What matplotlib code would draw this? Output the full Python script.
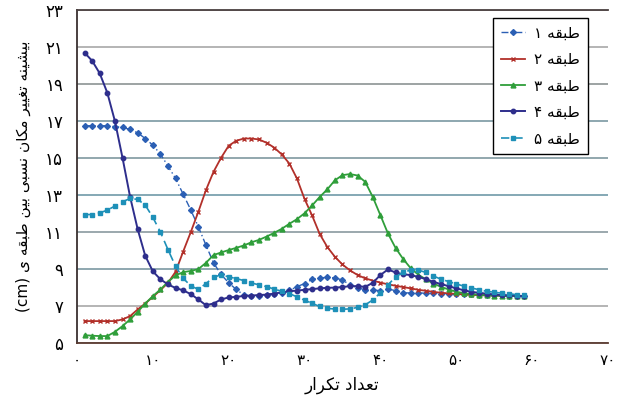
import numpy as np
import matplotlib
matplotlib.use("Agg")
import matplotlib.pyplot as plt

# Persian letters -> presentation forms (isolated, final, initial, medial)
FORMS = {
    'ا': ('\uFE8D', '\uFE8E', None, None),
    'ب': ('\uFE8F', '\uFE90', '\uFE91', '\uFE92'),
    'ت': ('\uFE95', '\uFE96', '\uFE97', '\uFE98'),
    'د': ('\uFEA9', '\uFEAA', None, None),
    'ر': ('\uFEAD', '\uFEAE', None, None),
    'س': ('\uFEB1', '\uFEB2', '\uFEB3', '\uFEB4'),
    'ش': ('\uFEB5', '\uFEB6', '\uFEB7', '\uFEB8'),
    'ط': ('\uFEC1', '\uFEC2', '\uFEC3', '\uFEC4'),
    'ع': ('\uFEC9', '\uFECA', '\uFECB', '\uFECC'),
    'غ': ('\uFECD', '\uFECE', '\uFECF', '\uFED0'),
    'ق': ('\uFED5', '\uFED6', '\uFED7', '\uFED8'),
    'ک': ('\uFED9', '\uFEDA', '\uFEDB', '\uFEDC'),
    'م': ('\uFEE1', '\uFEE2', '\uFEE3', '\uFEE4'),
    'ن': ('\uFEE5', '\uFEE6', '\uFEE7', '\uFEE8'),
    'ه': ('\uFEE9', '\uFEEA', '\uFEEB', '\uFEEC'),
    'ی': ('\uFEEF', '\uFEF0', '\uFEF3', '\uFEF4'),
}


def shape(word):
    out = []
    for i, ch in enumerate(word):
        if ch not in FORMS:
            out.append(ch)
            continue
        prev = word[i - 1] if i > 0 else None
        nxt = word[i + 1] if i + 1 < len(word) else None
        join_prev = prev in FORMS and FORMS[prev][2] is not None
        join_next = nxt in FORMS and FORMS[ch][2] is not None
        iso, fin, ini, med = FORMS[ch]
        if join_prev and join_next:
            out.append(med)
        elif join_prev:
            out.append(fin)
        elif join_next:
            out.append(ini)
        else:
            out.append(iso)
    return ''.join(out)


def fa(text):
    words = []
    for w in text.split(' '):
        if any(c in FORMS for c in w):
            words.append(shape(w)[::-1])
        else:
            words.append(w)
    return ' '.join(words[::-1])


def fa_num(n):
    return ''.join(chr(0x06F0 + int(d)) for d in str(n))


iters = list(range(1, 60))

floor1 = [16.75, 16.75, 16.75, 16.75, 16.70, 16.66, 16.55, 16.37, 16.06, 15.70,
          15.22, 14.57, 13.90, 13.05, 12.20, 11.29, 10.30, 9.34, 8.71, 8.26,
          7.90, 7.60, 7.55, 7.55, 7.60, 7.65, 7.70, 7.85, 8.05, 8.22,
          8.44, 8.53, 8.55, 8.53, 8.41, 8.15, 7.98, 7.88, 7.86, 7.84,
          7.92, 7.84, 7.72, 7.71, 7.71, 7.70, 7.69, 7.68, 7.67, 7.66,
          7.65, 7.63, 7.62, 7.60, 7.59, 7.58, 7.57, 7.56, 7.55]

floor2 = [6.19, 6.19, 6.19, 6.19, 6.19, 6.28, 6.46, 6.82, 7.14, 7.50,
          7.86, 8.26, 8.86, 9.95, 11.00, 12.10, 13.27, 14.26, 15.02, 15.67,
          15.94, 16.06, 16.06, 16.01, 15.83, 15.57, 15.20, 14.71, 13.90, 12.80,
          11.90, 10.90, 10.20, 9.67, 9.25, 8.93, 8.68, 8.50, 8.38, 8.27,
          8.18, 8.10, 8.03, 7.96, 7.88, 7.83, 7.77, 7.72, 7.69, 7.66,
          7.63, 7.61, 7.59, 7.58, 7.57, 7.56, 7.55, 7.55, 7.54]

floor3 = [5.43, 5.40, 5.38, 5.38, 5.61, 5.92, 6.28, 6.69, 7.14, 7.54,
          7.90, 8.31, 8.66, 8.84, 8.90, 9.00, 9.34, 9.76, 9.90, 10.03,
          10.15, 10.28, 10.45, 10.58, 10.76, 10.96, 11.18, 11.45, 11.70, 12.02,
          12.44, 12.90, 13.31, 13.80, 14.08, 14.14, 14.06, 13.72, 12.90, 11.92,
          10.93, 10.15, 9.55, 9.05, 8.70, 8.45, 8.22, 8.04, 7.90, 7.78,
          7.70, 7.65, 7.61, 7.59, 7.57, 7.56, 7.55, 7.55, 7.54]

floor4 = [20.70, 20.26, 19.58, 18.53, 17.00, 15.02, 12.91, 11.16, 9.72, 8.88,
          8.45, 8.17, 7.98, 7.85, 7.65, 7.36, 7.05, 7.14, 7.36, 7.47,
          7.50, 7.55, 7.57, 7.60, 7.62, 7.68, 7.74, 7.80, 7.84, 7.88,
          7.92, 7.96, 7.99, 8.00, 8.03, 8.08, 8.08, 8.04, 8.26, 8.68,
          8.98, 8.82, 8.72, 8.68, 8.58, 8.46, 8.31, 8.19, 8.08, 7.96,
          7.86, 7.77, 7.72, 7.67, 7.63, 7.59, 7.58, 7.56, 7.54]

floor5 = [11.95, 11.95, 12.04, 12.19, 12.41, 12.64, 12.82, 12.77, 12.46, 11.80,
          11.00, 10.05, 9.15, 8.50, 8.10, 7.90, 8.22, 8.55, 8.70, 8.58,
          8.49, 8.38, 8.25, 8.15, 8.05, 7.92, 7.80, 7.68, 7.50, 7.32,
          7.15, 6.98, 6.88, 6.84, 6.83, 6.85, 6.93, 7.07, 7.33, 7.72,
          8.14, 8.58, 8.82, 8.95, 8.95, 8.82, 8.63, 8.45, 8.33, 8.20,
          8.08, 7.98, 7.89, 7.80, 7.75, 7.70, 7.67, 7.61, 7.58]

x_ticks = [0, 10, 20, 30, 40, 50, 60, 70]
y_ticks = [5, 7, 9, 11, 13, 15, 17, 19, 21, 23]

fig = plt.figure(figsize=(6.18, 4.07), dpi=100)
ax = fig.add_axes([0.1246, 0.157, 0.859, 0.818])

ax.plot(iters, floor1, color='#2b5fb4', lw=1.0, ls=(0, (5, 2, 1, 2)),
        marker='D', ms=3.0, label=fa('طبقه ۱'))
ax.plot(iters, floor2, color='#b2302a', lw=1.3, ls='-',
        marker='x', ms=3.5, mew=1.0, label=fa('طبقه ۲'))
ax.plot(iters, floor3, color='#2f9e3a', lw=1.3, ls='-',
        marker='^', ms=3.5, label=fa('طبقه ۳'))
ax.plot(iters, floor4, color='#2e2e8c', lw=1.4, ls='-',
        marker='o', ms=3.2, label=fa('طبقه ۴'))
ax.plot(iters, floor5, color='#1e90b8', lw=1.2, ls=(0, (5, 3)),
        marker='s', ms=3.0, label=fa('طبقه ۵'))

ax.set_xlim(0, 70)
ax.set_ylim(5, 23)
ax.set_xticks(x_ticks)
ax.set_xticklabels([fa_num(t) for t in x_ticks], fontsize=11)
ax.set_yticks(y_ticks)
ax.set_yticklabels([fa_num(t) for t in y_ticks], fontsize=12)
ax.tick_params(axis='y', length=0, pad=10)
ax.tick_params(axis='x', length=0, pad=7)

# horizontal grid, alternating tones
ax.grid(axis='y', lw=1.2, zorder=0)
grid_colors = ['#a0a0a0', '#a8a8a8', '#7c98a2', '#8a9aa0', '#6f9aa8',
               '#7f98a0', '#7a98a2', '#8c9494', '#a8a8a8', '#a0a0a0']
for gl, c in zip(ax.get_ygridlines(), grid_colors):
    gl.set_color(c)
ax.set_axisbelow(True)

ax.spines['right'].set_visible(False)
ax.spines['left'].set_color('#3a3030')
ax.spines['top'].set_color('#4a4040')
ax.spines['bottom'].set_color('#5a3a30')
for s in ['left', 'top', 'bottom']:
    ax.spines[s].set_linewidth(1.3)

ax.set_xlabel(fa('تعداد تکرار'), fontsize=12, labelpad=6)
ax.set_ylabel(fa('بیشینه تغییر مکان نسبی بین طبقه ی (cm)'), fontsize=11, labelpad=10)

leg = ax.legend(loc='upper right', bbox_to_anchor=(0.962, 0.977), borderaxespad=0,
                fontsize=11, handlelength=1.6, handletextpad=0.6, labelspacing=0.75,
                fancybox=False, framealpha=1, edgecolor='black', borderpad=0.5)
leg.get_frame().set_linewidth(1.0)

fig.savefig('out.png', dpi=100)
